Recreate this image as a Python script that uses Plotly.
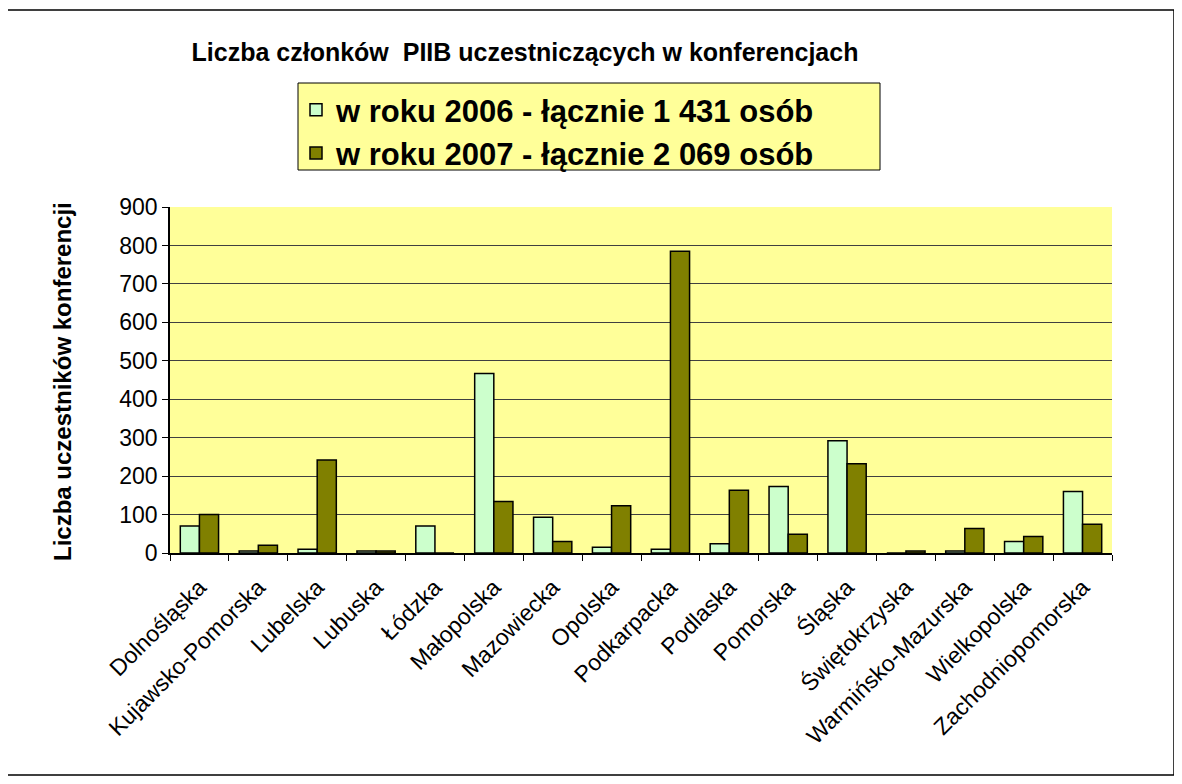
import plotly.graph_objects as go

categories = ["Dolnośląska", "Kujawsko-Pomorska", "Lubelska", "Lubuska", "Łódzka",
              "Małopolska", "Mazowiecka", "Opolska", "Podkarpacka", "Podlaska",
              "Pomorska", "Śląska", "Świętokrzyska", "Warmińsko-Mazurska",
              "Wielkopolska", "Zachodniopomorska"]
values_2006 = [70, 5, 10, 5, 70, 467, 93, 15, 10, 24, 173, 292, 0, 5, 30, 160]
values_2007 = [100, 20, 242, 5, 0, 134, 30, 123, 785, 163, 49, 232, 5, 64, 43, 75]
name_2006 = "w roku 2006 - łącznie 1 431 osób"
name_2007 = "w roku 2007 - łącznie 2 069 osób"
title_text = "Liczba członków  PIIB uczestniczących w konferencjach"
y_title = "Liczba uczestników konferencji"

FONT = "Arial, Liberation Sans, sans-serif"

# page offset (body margin) of the rendered html
OFF = 8

fig = go.Figure()
fig.add_trace(go.Bar(x=categories, y=values_2006, name="<b>" + name_2006 + "</b>", legendgroup="a",
                     marker=dict(color="#CCFFCC", line=dict(color="black", width=1.5))))
fig.add_trace(go.Bar(x=categories, y=values_2007, name="<b>" + name_2007 + "</b>", legendgroup="b",
                     marker=dict(color="#808000", line=dict(color="black", width=1.5))))

W, H = 1182 - OFF, 784 - OFF
L, R, T, B = 170 - OFF, 1112 - OFF, 207 - OFF, 553 - OFF
pw, ph = R - L, B - T


def px(x):
    return (x - OFF - L) / pw


def py(y):
    return (B - (y - OFF)) / ph


shapes = [
    dict(type="rect", xref="paper", yref="paper", x0=px(7), x1=px(1174), y0=py(775), y1=py(10),
         line=dict(color="black", width=1.5), fillcolor="rgba(0,0,0,0)", layer="below"),
    dict(type="rect", xref="paper", yref="paper", x0=px(298), x1=px(880), y0=py(170), y1=py(83),
         line=dict(color="black", width=1), fillcolor="#FFFF99", layer="below"),
]

fig.update_layout(
    width=W, height=H,
    margin=dict(l=L, r=W - R, t=T, b=H - B),
    paper_bgcolor="white",
    plot_bgcolor="#FFFF99",
    barmode="group",
    bargap=0.35,
    bargroupgap=0,
    font=dict(family=FONT, color="black"),
    title=dict(text="<b>" + title_text + "</b>", x=(525 - OFF) / W, xanchor="center",
               y=1 - (52 - OFF) / H, yanchor="middle", font=dict(size=25, family=FONT, color="black")),
    legend=dict(x=px(296), y=py(83), xanchor="left", yanchor="top",
                bgcolor="rgba(0,0,0,0)", borderwidth=0,
                font=dict(size=31, family=FONT, color="black"),
                tracegroupgap=0),
    shapes=shapes,
    annotations=[dict(text="<b>" + y_title + "</b>", xref="paper", yref="paper",
                      x=px(62), y=py(382), xanchor="center", yanchor="middle",
                      textangle=-90, showarrow=False,
                      font=dict(size=24, family=FONT, color="black"))],
    xaxis=dict(type="category", tickangle=-45, tickson="boundaries", ticks="outside",
               ticklen=6, tickcolor="black", showline=True, linecolor="black", linewidth=1.5,
               ticklabelstandoff=10,
               tickfont=dict(size=23, family=FONT, color="black"), showgrid=False),
    yaxis=dict(range=[0, 900], dtick=100, ticks="outside", ticklen=6, tickcolor="black",
               showline=True, linecolor="black", linewidth=1.5, showgrid=True,
               gridcolor="#404040", gridwidth=1, zeroline=False,
               tickfont=dict(size=23, family=FONT, color="black")),
)

fig.write_html("out.html")
